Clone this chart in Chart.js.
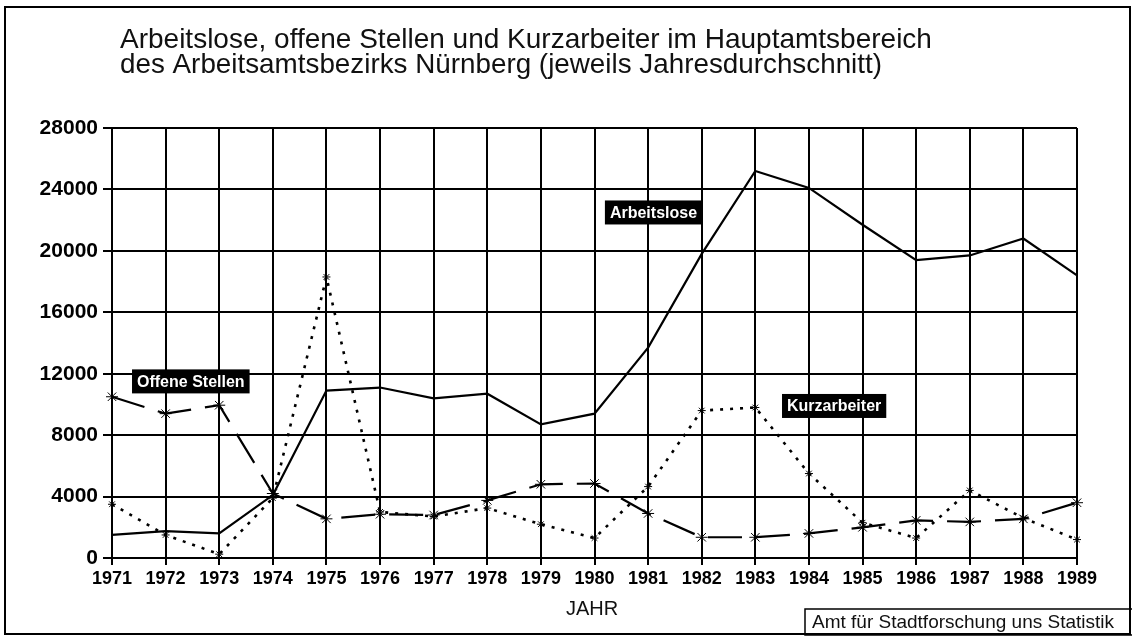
<!DOCTYPE html>
<html>
<head>
<meta charset="utf-8">
<script src="https://cdn.jsdelivr.net/npm/chart.js@4/dist/chart.umd.min.js"></script>
<style>
  html, body { margin: 0; padding: 0; background: #fff; }
  #wrap { width: 1132px; height: 637px; }
</style>
</head>
<body>
<div id="wrap"><canvas id="grafik" width="1132" height="637"></canvas></div>
<script>
// Jahresdurchschnitte
const jahre = ['1971', '1972', '1973', '1974', '1975', '1976', '1977', '1978', '1979', '1980',
               '1981', '1982', '1983', '1984', '1985', '1986', '1987', '1988', '1989'];
const arbeitslose = [1500, 1750, 1600, 4100, 10900, 11100, 10400, 10700, 8700, 9400,
                     13700, 19800, 25200, 24100, 21700, 19400, 19700, 20800, 18400];
const offeneStellen = [10500, 9400, 9950, 4200, 2550, 2850, 2800, 3750, 4800, 4850,
                       2900, 1350, 1350, 1600, 2000, 2450, 2350, 2550, 3600];
const kurzarbeiter = [3500, 1500, 250, 3900, 18300, 3000, 2700, 3250, 2200, 1300,
                      4650, 9600, 9800, 5500, 2300, 1300, 4400, 2600, 1200];
const yTicks = [0, 4000, 8000, 12000, 16000, 20000, 24000, 28000];

const titelZeilen = [
    'Arbeitslose, offene Stellen und Kurzarbeiter im Hauptamtsbereich',
    'des Arbeitsamtsbezirks Nürnberg (jeweils Jahresdurchschnitt)'
];
const quelle = 'Amt für Stadtforschung uns Statistik';

// Beschriftungen an den Linien: [Text, x-Index, y-Wert]
const linienNamen = [
    ['Arbeitslose', 10.1, 22500],
    ['Offene Stellen', 1.47, 11500],
    ['Kurzarbeiter', 13.47, 9900]
];

const rahmen = {
    id: 'rahmen',
    beforeDraw(chart) {
        const ctx = chart.ctx;
        ctx.save();
        ctx.fillStyle = '#fff';
        ctx.fillRect(0, 0, chart.width, chart.height);
        ctx.restore();
    },
    afterDatasetsDraw(chart) {
        const ctx = chart.ctx;
        const xs = chart.scales.x, ys = chart.scales.y;
        ctx.save();
        ctx.font = 'bold 16px "Liberation Sans", Arial, sans-serif';
        ctx.textAlign = 'center';
        ctx.textBaseline = 'middle';
        linienNamen.forEach(([txt, xi, yv]) => {
            const i0 = Math.floor(xi);
            const px = xs.getPixelForValue(i0) + (xi - i0) * (xs.getPixelForValue(i0 + 1) - xs.getPixelForValue(i0));
            const py = ys.getPixelForValue(yv);
            const w = ctx.measureText(txt).width + 10;
            ctx.fillStyle = '#000';
            ctx.fillRect(px - w / 2, py - 12, w, 24);
            ctx.fillStyle = '#fff';
            ctx.fillText(txt, px, py + 1);
        });
        ctx.restore();
    },
    afterDraw(chart) {
        const ctx = chart.ctx;
        ctx.save();
        // Rahmen um das Blatt
        ctx.strokeStyle = '#000';
        ctx.lineWidth = 2;
        ctx.strokeRect(5, 7, 1125, 627);

        // Titel
        ctx.fillStyle = '#111';
        ctx.font = '28px "Liberation Sans", Arial, sans-serif';
        ctx.textAlign = 'left';
        ctx.textBaseline = 'alphabetic';
        ctx.fillText(titelZeilen[0], 120, 48, 815);
        ctx.fillText(titelZeilen[1], 120, 73, 762);

        // Achsentitel
        ctx.font = '20px "Liberation Sans", Arial, sans-serif';
        ctx.textAlign = 'center';
        ctx.fillText('JAHR', 592, 615);

        // Quelle
        ctx.lineWidth = 1.5;
        ctx.strokeRect(805, 609, 330, 26);
        ctx.font = '19px "Liberation Sans", Arial, sans-serif';
        ctx.textAlign = 'left';
        ctx.fillText(quelle, 812, 628, 314);
        ctx.restore();
    }
};

new Chart(document.getElementById('grafik'), {
    type: 'line',
    data: {
        labels: jahre,
        datasets: [
            {
                label: 'Arbeitslose',
                data: arbeitslose,
                borderColor: '#000',
                borderWidth: 2.2,
                pointRadius: 0,
                tension: 0
            },
            {
                label: 'Offene Stellen',
                data: offeneStellen,
                borderColor: '#000',
                borderWidth: 2.2,
                borderDash: [34, 14],
                pointStyle: 'star',
                pointRadius: 6,
                pointBorderColor: '#000',
                pointBorderWidth: 1,
                tension: 0
            },
            {
                label: 'Kurzarbeiter',
                data: kurzarbeiter,
                borderColor: '#000',
                borderWidth: 2.6,
                borderDash: [3, 7],
                pointStyle: 'star',
                pointRadius: 4,
                pointBorderColor: '#000',
                pointBorderWidth: 1,
                tension: 0
            }
        ]
    },
    options: {
        responsive: false,
        animation: false,
        devicePixelRatio: 1,
        layout: { padding: { top: 128, right: 55, left: 0, bottom: 0 } },
        plugins: {
            legend: { display: false },
            tooltip: { enabled: false },
            title: { display: false }
        },
        scales: {
            x: {
                offset: false,
                afterFit: s => { s.height = 79; },
                grid: { color: '#000', lineWidth: 2, tickLength: 7, offset: false },
                border: { color: '#000', width: 2 },
                ticks: {
                    color: '#000',
                    padding: 3,
                    maxRotation: 0,
                    autoSkip: false,
                    font: { family: '"Liberation Sans", Arial, sans-serif', size: 18, weight: 'bold' }
                }
            },
            y: {
                min: 0,
                max: 28000,
                afterFit: s => { s.width = 112; },
                afterBuildTicks: s => { s.ticks = yTicks.map(v => ({ value: v })); },
                grid: { color: '#000', lineWidth: 2, tickLength: 9 },
                border: { color: '#000', width: 2 },
                ticks: {
                    color: '#000',
                    padding: 5,
                    callback: v => String(v),
                    font: { family: '"Liberation Sans", Arial, sans-serif', size: 21, weight: 'bold' }
                }
            }
        }
    },
    plugins: [rahmen]
});
</script>
</body>
</html>
